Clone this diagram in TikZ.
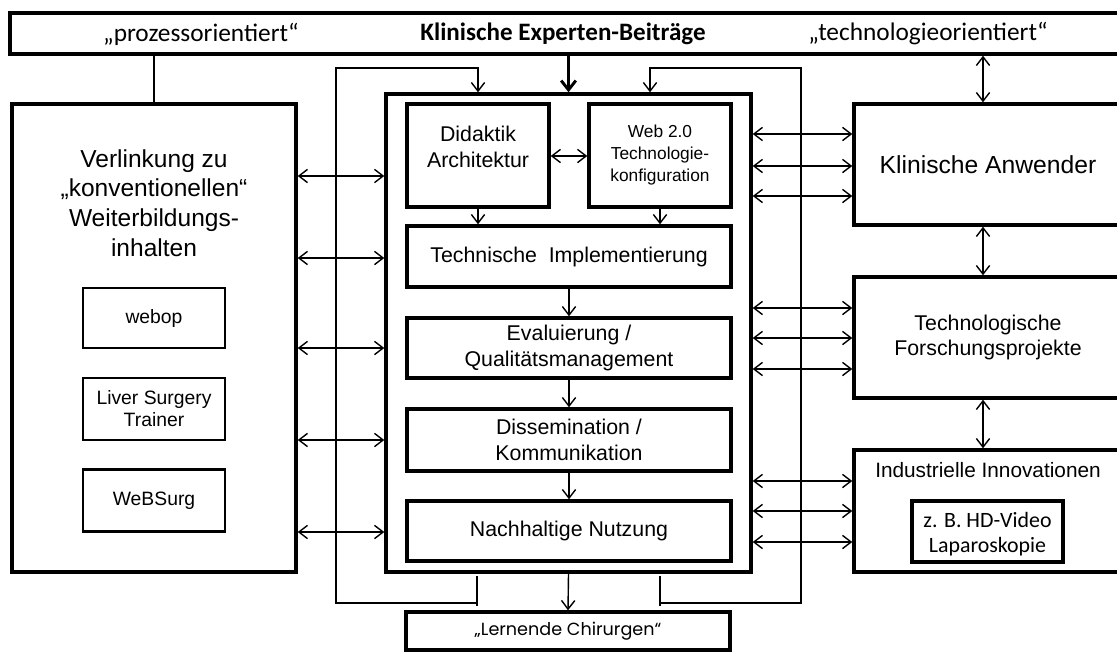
\documentclass[tikz,border=0pt]{standalone}
\usepackage{fontspec}
\setmainfont{Liberation Sans}
\newfontfamily\calfont{Carlito}
\newfontfamily\gothfont{Poppins}
\usetikzlibrary{arrows.meta}
\begin{document}
\begin{tikzpicture}[x=0.75pt,y=-0.75pt,
  box/.style={draw, rectangle, line width=2.6pt, inner sep=0pt, align=center},
  subbox/.style={draw, rectangle, line width=2.2pt, inner sep=0pt, align=center},
  txt/.style={inner sep=0pt, align=center},
  conn/.style={line width=0.9pt},
  arr/.style={line width=1.05pt, -{Straight Barb[length=6.5pt,width=10pt]}},
  darr/.style={line width=1.05pt, {Straight Barb[length=6.5pt,width=10pt]}-{Straight Barb[length=6.5pt,width=10pt]}},
  bigarr/.style={line width=2.2pt, -{Straight Barb[length=7pt,width=11pt]}},
  fa/.style={font=\fontsize{16}{19}\selectfont},
  ]
\useasboundingbox (0,0) rectangle (1117,653);
\clip (0,0) rectangle (1117,653);

% banner
\node[box, minimum width=840pt, minimum height=30.75pt] (banner) at (570,33.5) {};
\node[txt, font=\calfont\fontsize{19}{22}\selectfont] (proz) at (201,34) {„prozessorientiert“};
\node[txt, font=\calfont\bfseries\fontsize{18.8}{22}\selectfont] (kexp) at (563,34) {Klinische Experten-Beiträge};
\node[txt, font=\calfont\fontsize{19}{22}\selectfont] (techo) at (928,34) {„technologieorientiert“};

% left
\node[box, minimum width=213pt, minimum height=351pt] (left) at (154,338) {};
\node[txt, font=\fontsize{18.4}{22.3}\selectfont] (lefttxt) at (154,203) {Verlinkung zu\\„konventionellen“\\Weiterbildungs-\\inhalten};
\node[subbox, minimum width=106.5pt, minimum height=45pt, font=\fontsize{14.5}{16.5}\selectfont] (webop) at (154,318) {webop};
\node[subbox, minimum width=106.5pt, minimum height=46.5pt, font=\fontsize{14.5}{16.5}\selectfont] (liver) at (154,409) {Liver Surgery\\Trainer};
\node[subbox, minimum width=106.5pt, minimum height=47pt, font=\fontsize{14.5}{16.5}\selectfont] (websurg) at (154,500.5) {WeBSurg};

% central
\node[box, minimum width=273.75pt, minimum height=358.5pt] (central) at (568.5,333) {};
\node[box, minimum width=106.5pt, minimum height=77.25pt] (did) at (478,155.5) {};
\node[txt, fa] (didtxt) at (478,147) {Didaktik\\Architektur};
\node[box, minimum width=106.5pt, minimum height=77.25pt, font=\fontsize{13}{16.5}\selectfont] (web) at (660,155.5) {Web 2.0\\Technologie-\\konfiguration};
\node[box, minimum width=243pt, minimum height=45.75pt, fa] (impl) at (569,256.5) {Technische\hspace{0.55em}Implementierung};
\node[box, minimum width=243pt, minimum height=45pt, font=\fontsize{16}{20}\selectfont] (eval) at (569,348) {Evaluierung /\\Qualitätsmanagement};
\node[box, minimum width=243pt, minimum height=46.5pt, fa] (diss) at (569,440) {Dissemination /\\Kommunikation};
\node[box, minimum width=243pt, minimum height=45pt, font=\fontsize{16}{18}\selectfont] (nach) at (569,531) {Nachhaltige Nutzung};
\node[box, minimum width=243pt, minimum height=28.5pt, font=\gothfont\fontsize{13.2}{15}\selectfont] (lern) at (568,631) {„Lernende Chirurgen“};

% right
\node[box, minimum width=201pt, minimum height=90.75pt, font=\fontsize{18.5}{22}\selectfont] (klin) at (988,164.5) {Klinische Anwender};
\node[box, minimum width=201pt, minimum height=90.75pt, fa] (techf) at (988,337.5) {Technologische\\Forschungsprojekte};
\node[box, minimum width=201pt, minimum height=91.5pt] (indus) at (988,511) {};
\node[txt, font=\fontsize{15.6}{18}\selectfont] (indtxt) at (988,470) {Industrielle Innovationen};
\node[box, minimum width=113.25pt, minimum height=45.75pt] (hd) at (987.5,531.5) {};
\node[txt, font=\calfont\fontsize{16.4}{18.75}\selectfont] (hdtxt) at (987.5,534) {z. B. HD-Video\\Laparoskopie};

% banner connections
\draw[conn] (banner.south -| left.north) -- (left.north);
\draw[bigarr] (banner.south -| central.north) -- (central.north);
\draw[darr] (banner.south -| 983,0) -- (klin.north -| 983,0);
\draw[darr] (klin.south -| 983,0) -- (techf.north -| 983,0);
\draw[darr] (techf.south -| 983,0) -- (indus.north -| 983,0);

% left <-> central
\foreach \y in {176,258,348,440,532}
  \draw[darr] (left.east |- 0,\y) -- (central.west |- 0,\y);
% central <-> right
\foreach \y in {134,166,196}
  \draw[darr] (central.east |- 0,\y) -- (klin.west |- 0,\y);
\foreach \y in {308,338,369}
  \draw[darr] (central.east |- 0,\y) -- (techf.west |- 0,\y);
\foreach \y in {481,511,542}
  \draw[darr] (central.east |- 0,\y) -- (indus.west |- 0,\y);

% inner flow
\draw[darr] (did.east |- 0,156) -- (web.west |- 0,156);
\draw[arr] (did.south) -- (impl.north -| did.south);
\draw[arr] (web.south) -- (impl.north -| web.south);
\draw[arr] (impl.south) -- (eval.north);
\draw[arr] (eval.south) -- (diss.north);
\draw[arr] (diss.south) -- (nach.north);
\draw[arr] (central.south) -- (lern.north);

% feedback loops
\coordinate (ltop) at (336,68);
\coordinate (lbot) at (336,603);
\coordinate (lj) at (477,603);
\coordinate (lt1) at (477,576);
\coordinate (lt2) at (477,606);
\coordinate (rtop) at (801,68);
\coordinate (rbot) at (801,603);
\coordinate (rj) at (660,603);
\coordinate (rt1) at (660,576);
\coordinate (rt2) at (660,606);
\draw[conn] (lt1) -- (lt2);
\draw[conn] (rt1) -- (rt2);
\draw[arr] (lj) -- (lbot) -- (ltop) -| (central.north -| 478,0);
\draw[arr] (rj) -- (rbot) -- (rtop) -| (central.north -| 650,0);
\end{tikzpicture}
\end{document}
